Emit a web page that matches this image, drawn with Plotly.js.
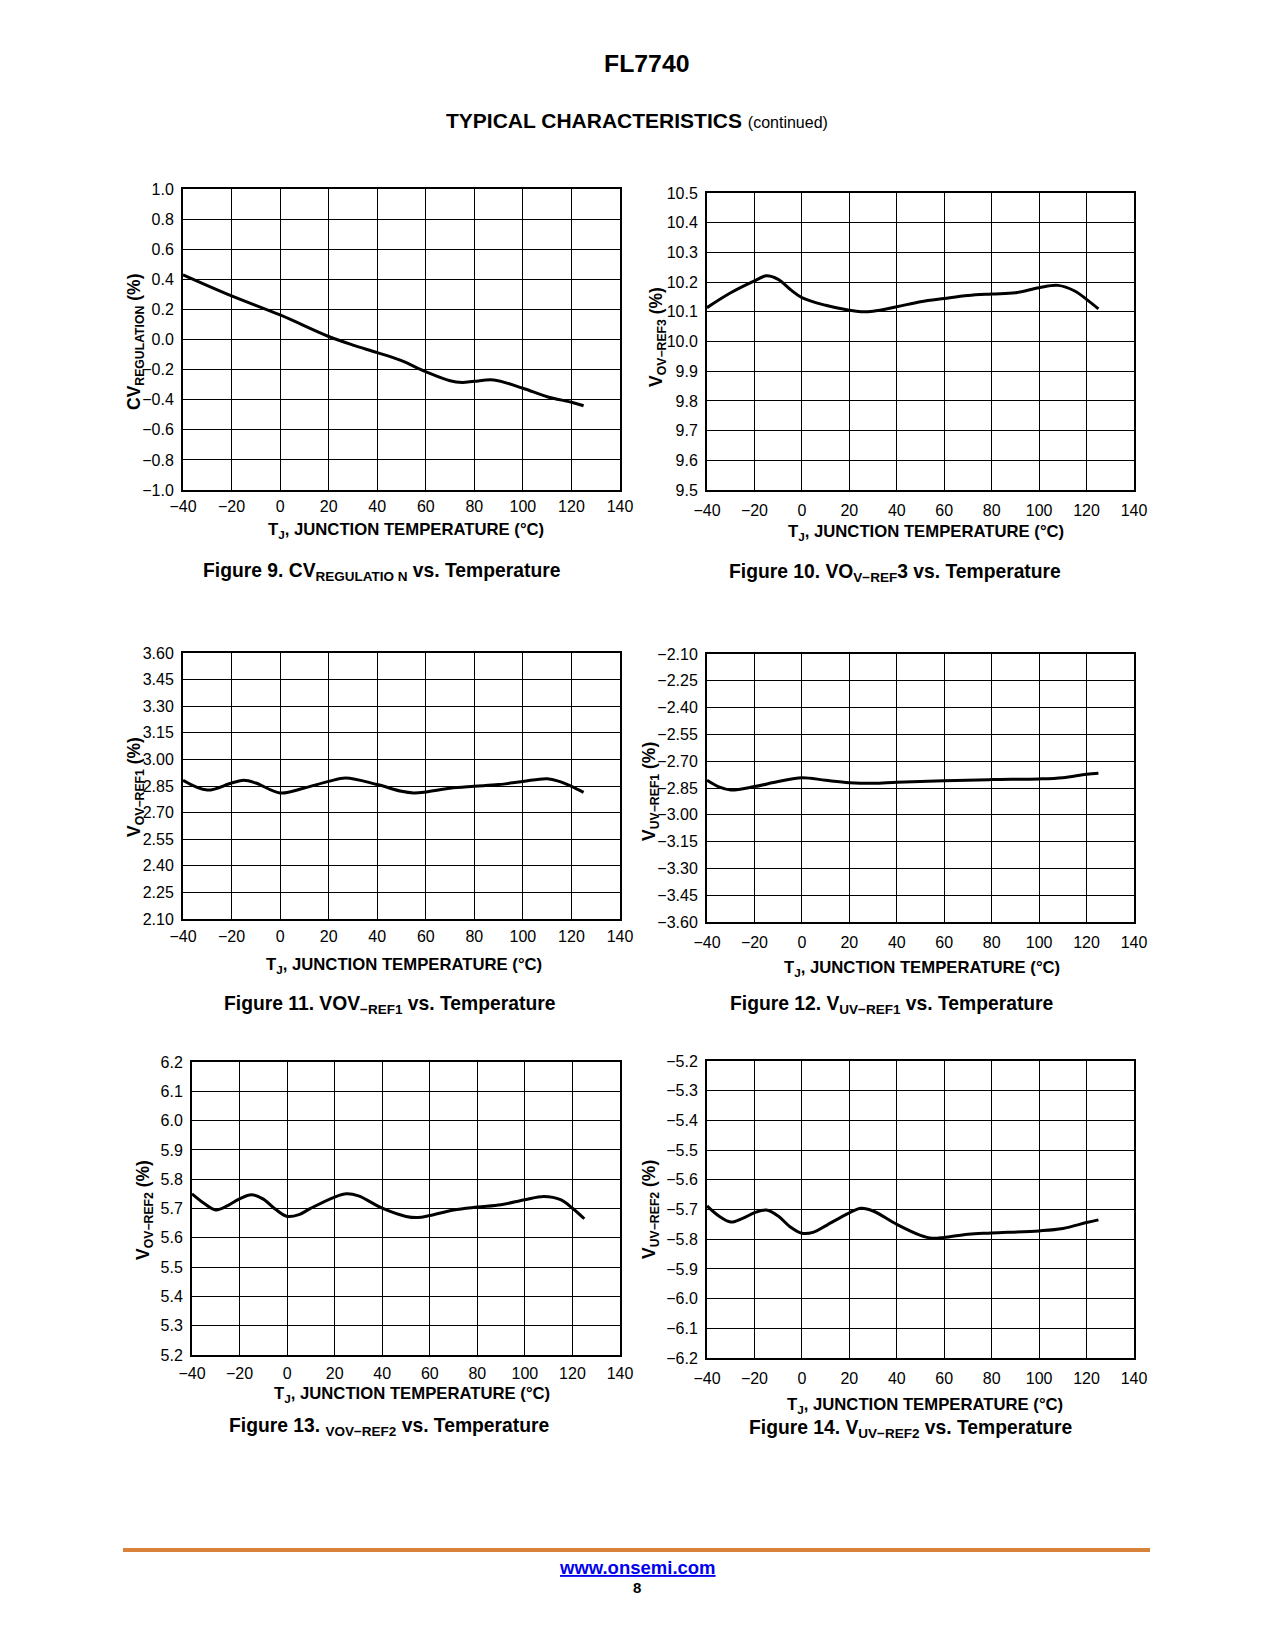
<!DOCTYPE html>
<html>
<head>
<meta charset="utf-8">
<script src="https://cdn.plot.ly/plotly-3.0.1.min.js"></script>
<style>
  html, body { margin: 0; padding: 0; background: #fff; }
  #chart { width: 1275px; height: 1650px; }
</style>
</head>
<body>
<div id="chart"></div>
<script>
// ---- Data ----
const xTicks = [-40, -20, 0, 20, 40, 60, 80, 100, 120, 140];

const fig9_T  = [-40, -20, 0, 20, 30, 40, 50, 60, 70, 75, 80, 88, 100, 110, 120, 125];
const fig9_CV = [0.43, 0.29, 0.163, 0.02, -0.037, -0.087, -0.141, -0.214, -0.274, -0.285, -0.278, -0.269, -0.324, -0.38, -0.417, -0.44];

const fig10_T = [-40, -30, -20, -15, -10, -5, 0, 10, 20, 25, 30, 40, 50, 60, 70, 80, 90, 100, 108, 115, 120, 125];
const fig10_V = [10.114, 10.164, 10.204, 10.221, 10.209, 10.176, 10.148, 10.122, 10.105, 10.100, 10.102, 10.117, 10.134, 10.145, 10.155, 10.160, 10.164, 10.181, 10.189, 10.170, 10.142, 10.110];

const fig11_T = [-40, -30, -20, -15, -10, 0, 10, 20, 27, 40, 50, 55, 60, 70, 80, 90, 100, 110, 115, 120, 125];
const fig11_V = [2.882, 2.827, 2.867, 2.882, 2.867, 2.811, 2.839, 2.876, 2.895, 2.858, 2.820, 2.811, 2.816, 2.837, 2.848, 2.858, 2.876, 2.891, 2.876, 2.848, 2.814];

const fig12_T = [-40, -35, -30, -20, -10, 0, 10, 20, 30, 40, 60, 80, 100, 110, 120, 125];
const fig12_V = [-2.807, -2.844, -2.861, -2.842, -2.814, -2.792, -2.807, -2.820, -2.824, -2.818, -2.809, -2.803, -2.799, -2.792, -2.773, -2.768];

const fig13_T = [-40, -35, -30, -25, -20, -15, -10, -5, 0, 5, 10, 20, 25, 30, 40, 50, 55, 60, 70, 80, 90, 100, 108, 115, 120, 125];
const fig13_V = [5.750, 5.718, 5.695, 5.710, 5.733, 5.747, 5.732, 5.698, 5.673, 5.679, 5.701, 5.739, 5.750, 5.743, 5.701, 5.673, 5.669, 5.676, 5.695, 5.705, 5.713, 5.730, 5.741, 5.730, 5.701, 5.665];

const fig14_T = [-40, -35, -30, -25, -20, -15, -10, -5, 0, 5, 10, 20, 25, 30, 40, 50, 55, 60, 70, 80, 100, 110, 120, 125];
const fig14_V = [-5.688, -5.722, -5.742, -5.730, -5.711, -5.702, -5.722, -5.758, -5.780, -5.776, -5.755, -5.711, -5.696, -5.705, -5.750, -5.787, -5.797, -5.794, -5.783, -5.779, -5.772, -5.764, -5.744, -5.735];

// ---- Layout helpers ----
const W = 1275, H = 1650;
const px = x => x / W;
const py = y => 1 - y / H;
const FONT = "Liberation Sans, Arial, Helvetica, sans-serif";

const panels = [
  {T: fig9_T,  V: fig9_CV, box: [183, 620, 189, 490],  yr: [-1.0, 1.0],  dy: 0.2,  fmt: ".1f", xs: 1},
  {T: fig10_T, V: fig10_V, box: [707, 1134, 193, 490], yr: [9.5, 10.5],  dy: 0.1,  fmt: ".1f", xs: 5},
  {T: fig11_T, V: fig11_V, box: [183, 620, 653, 919],  yr: [2.10, 3.60], dy: 0.15, fmt: ".2f", xs: 2},
  {T: fig12_T, V: fig12_V, box: [707, 1134, 654, 922], yr: [-3.60, -2.10], dy: 0.15, fmt: ".2f", xs: 5},
  {T: fig13_T, V: fig13_V, box: [192, 620, 1062, 1355], yr: [5.2, 6.2], dy: 0.1, fmt: ".1f", xs: 3},
  {T: fig14_T, V: fig14_V, box: [707, 1134, 1061, 1358], yr: [-6.2, -5.2], dy: 0.1, fmt: ".1f", xs: 5}
];

const data = [];
const layout = {
  width: W, height: H,
  margin: {l: 0, r: 0, t: 0, b: 0},
  paper_bgcolor: "#fff",
  plot_bgcolor: "#fff",
  showlegend: false,
  font: {family: FONT, color: "#000"},
  annotations: [],
  shapes: []
};

panels.forEach((p, i) => {
  const n = i === 0 ? "" : String(i + 1);
  data.push({
    x: p.T, y: p.V,
    xaxis: "x" + n, yaxis: "y" + n,
    type: "scatter", mode: "lines",
    line: {color: "#000", width: 3, shape: "spline", smoothing: 1},
    hoverinfo: "skip"
  });
  const [l, r, t, b] = p.box;
  layout["xaxis" + n] = {
    domain: [px(l), px(r)],
    anchor: "y" + n,
    range: [-40, 140],
    tickvals: xTicks,
    ticks: "",
    ticklabelstandoff: p.xs,
    showgrid: true, gridcolor: "#000", gridwidth: 1,
    zeroline: false,
    showline: true, mirror: true, linecolor: "#000", linewidth: 2,
    tickfont: {family: FONT, size: 16, color: "#000"},
    fixedrange: true
  };
  layout["yaxis" + n] = {
    domain: [py(b), py(t)],
    anchor: "x" + n,
    range: p.yr,
    tick0: p.yr[0], dtick: p.dy,
    tickformat: p.fmt,
    ticks: "",
    ticklabelstandoff: 4,
    showgrid: true, gridcolor: "#000", gridwidth: 1,
    zeroline: false,
    showline: true, mirror: true, linecolor: "#000", linewidth: 2,
    tickfont: {family: FONT, size: 16, color: "#000"},
    fixedrange: true
  };
});

function ann(text, x, y, size, opts) {
  layout.annotations.push(Object.assign({
    text: text, x: px(x), y: py(y), xref: "paper", yref: "paper",
    xanchor: "center", yanchor: "middle", showarrow: false,
    font: {family: FONT, size: size, color: "#000"}
  }, opts || {}));
}

// Page header
ann("<b>FL7740</b>", 646, 63, 24.8);
ann("<b>TYPICAL CHARACTERISTICS</b> <span style='font-size:16px'>(continued)</span>", 637, 120, 21);

// X-axis titles
const xTitle = "<b>T<sub>J</sub>, JUNCTION TEMPERATURE (°C)</b>";
const XT = 16.7;
ann(xTitle, 406, 531, XT);
ann(xTitle, 926, 532, XT);
ann(xTitle, 404, 965, XT);
ann(xTitle, 922, 968, XT);
ann(xTitle, 412, 1394, XT);
ann(xTitle, 925, 1405, XT);

// Y-axis titles
const yT = {textangle: -90};
const YT = 17.5;
ann("<b>CV<sub>REGULATION</sub> (%)</b>", 135, 342, YT, yT);
ann("<b>V<sub>OV−REF3</sub> (%)</b>", 657, 337, YT, yT);
ann("<b>V<sub>OV−REF1</sub> (%)</b>", 135, 787, YT, yT);
ann("<b>V<sub>UV−REF1</sub> (%)</b>", 650, 792, YT, yT);
ann("<b>V<sub>OV−REF2</sub> (%)</b>", 144, 1210, YT, yT);
ann("<b>V<sub>UV−REF2</sub> (%)</b>", 650, 1210, YT, yT);

// Figure captions
const CT = 19.3;
ann("<b>Figure 9. CV<sub>REGULATIO N</sub> vs. Temperature</b>", 382, 572, CT);
ann("<b>Figure 10. VO<sub>V−REF</sub>3 vs. Temperature</b>", 895, 573, CT);
ann("<b>Figure 11. VOV<sub>−REF1</sub> vs. Temperature</b>", 390, 1005, CT);
ann("<b>Figure 12. V<sub>UV−REF1</sub> vs. Temperature</b>", 892, 1005, CT);
ann("<b>Figure 13. <sub>VOV−REF2</sub> vs. Temperature</b>", 389, 1427, CT);
ann("<b>Figure 14. V<sub>UV−REF2</sub> vs. Temperature</b>", 911, 1429, CT);

// Footer
layout.shapes.push({
  type: "line", xref: "paper", yref: "paper",
  x0: px(123), x1: px(1150), y0: py(1550), y1: py(1550),
  line: {color: "#D9823B", width: 4}
});
ann("<b><u>www.onsemi.com</u></b>", 637, 1567, 18.5, {font: {family: FONT, size: 18.5, color: "#0000EE"}});
ann("<b>8</b>", 637, 1587, 15);

Plotly.newPlot("chart", data, layout, {staticPlot: true, displayModeBar: false});
</script>
</body>
</html>
